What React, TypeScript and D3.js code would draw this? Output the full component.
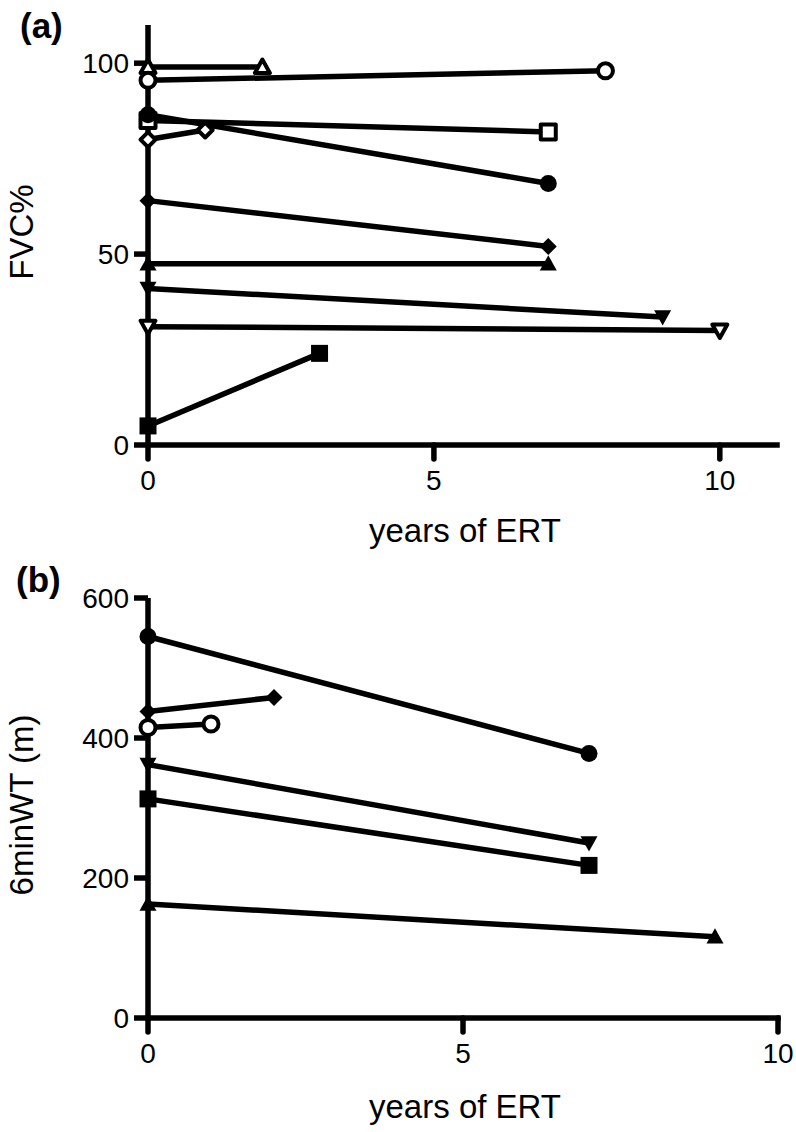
import React from "react";
import * as d3 from "d3";

type Shape = "triUp" | "triDown" | "circle" | "square" | "diamond";
interface Series { shape: Shape; open: boolean; years: number[]; values: number[]; }

// Panel (a): FVC%
const fvcShapes: Shape[] = ["triUp", "circle", "square", "circle", "diamond", "diamond", "triUp", "triDown", "triDown", "square"];
const fvcOpen: boolean[] = [true, true, true, false, true, false, false, false, true, false];
const fvcYears: number[][] = [[0, 2], [0, 8], [0, 7], [0, 7], [0, 1], [0, 7], [0, 7], [0, 9], [0, 10], [0, 3]];
const fvcValues: number[][] = [[99, 99], [95.5, 98], [85, 82], [86.5, 68.5], [80, 82.5], [64, 52], [47.5, 47.5], [41, 33.5], [31, 30], [5, 24]];

// Panel (b): 6minWT (m)
const wtShapes: Shape[] = ["circle", "diamond", "circle", "triDown", "square", "triUp"];
const wtOpen: boolean[] = [false, false, true, false, false, false];
const wtYears: number[][] = [[0, 7], [0, 2], [0, 1], [0, 7], [0, 7], [0, 9]];
const wtValues: number[][] = [[545, 378], [438, 458], [415, 420], [362, 250], [313, 218], [163, 116]];

const xTicksA = [0, 5, 10];
const yTicksA = [0, 50, 100];
const xTicksB = [0, 5, 10];
const yTicksB = [0, 200, 400, 600];

const mk = (shapes: Shape[], open: boolean[], years: number[][], values: number[][]): Series[] =>
  shapes.map((s, i) => ({ shape: s, open: open[i], years: years[i], values: values[i] }));

const FONT = "Liberation Sans, Arial, sans-serif";

function markerPath(shape: Shape, size: number): string {
  const h = size / 2;
  switch (shape) {
    case "square":
      return `M${-h},${-h}H${h}V${h}H${-h}Z`;
    case "diamond":
      return `M0,${-h}L${h},0L0,${h}L${-h},0Z`;
    case "triUp":
      return `M0,${-h}L${h},${h * 0.8}L${-h},${h * 0.8}Z`;
    case "triDown":
      return `M0,${h}L${h},${-h * 0.8}L${-h},${-h * 0.8}Z`;
    default:
      return d3.symbol(d3.symbolCircle, Math.PI * h * h)() || "";
  }
}

interface PanelProps {
  series: Series[];
  x: d3.ScaleLinear<number, number>;
  y: d3.ScaleLinear<number, number>;
  xTicks: number[];
  yTicks: number[];
  yLabel: string;
  yLabelCenter: number;
  xLabelY: number;
  tag: string;
  tagY: number;
  tagX: number;
}

function Panel({ series, x, y, xTicks, yTicks, yLabel, yLabelCenter, xLabelY, tag, tagY, tagX }: PanelProps) {
  const [x0, x1] = x.range();
  const [y0, y1] = y.range();
  const line = d3.line<[number, number]>().x((d) => x(d[0])).y((d) => y(d[1]));
  const sw = 5.5;
  return (
    <g>
      <text x={tagX} y={tagY} fontFamily={FONT} fontWeight="bold" fontSize={35}>{tag}</text>
      {/* axes */}
      <line x1={x0} x2={x0} y1={y1} y2={y0} stroke="#000" strokeWidth={sw} />
      <line x1={x0} x2={x1} y1={y0} y2={y0} stroke="#000" strokeWidth={sw} strokeLinecap="square" />
      {yTicks.map((t) => (
        <g key={"y" + t}>
          <line x1={x0 - 14} x2={x0} y1={y(t)} y2={y(t)} stroke="#000" strokeWidth={sw} />
          <text x={x0 - 19} y={y(t)} dy="0.36em" textAnchor="end" fontFamily={FONT} fontSize={28}>{t}</text>
        </g>
      ))}
      {xTicks.map((t) => (
        <g key={"x" + t}>
          <line x1={x(t)} x2={x(t)} y1={y0} y2={y0 + 14} stroke="#000" strokeWidth={sw} strokeLinecap="round" />
          <text x={x(t)} y={y0 + 45} textAnchor="middle" fontFamily={FONT} fontSize={28}>{t}</text>
        </g>
      ))}
      <text x={465} y={xLabelY} textAnchor="middle" fontFamily={FONT} fontSize={33}>years of ERT</text>
      <text transform={`translate(33,${yLabelCenter}) rotate(-90)`} textAnchor="middle" fontFamily={FONT} fontSize={33}>{yLabel}</text>
      {/* data lines */}
      {series.map((s, i) => (
        <path key={"l" + i} d={line(s.years.map((yr, j) => [yr, s.values[j]] as [number, number])) || ""}
          fill="none" stroke="#000" strokeWidth={sw} />
      ))}
      {/* markers */}
      {series.map((s, i) =>
        s.years.map((yr, j) => (
          <path key={"m" + i + "_" + j}
            transform={`translate(${x(yr)},${y(s.values[j])})`}
            d={markerPath(s.shape, s.open ? 15 : 17)}
            fill={s.open ? "#fff" : "#000"}
            stroke="#000" strokeWidth={s.open ? 4 : 0} strokeLinejoin="round" />
        ))
      )}
    </g>
  );
}

export default function App() {
  const xA = d3.scaleLinear().domain([0, 11]).range([148, 777]);
  const yA = d3.scaleLinear().domain([0, 110]).range([445, 25]);
  const xB = d3.scaleLinear().domain([0, 10]).range([148, 778]);
  const yB = d3.scaleLinear().domain([0, 600]).range([1018, 598]);
  const fvc = mk(fvcShapes, fvcOpen, fvcYears, fvcValues);
  const wt = mk(wtShapes, wtOpen, wtYears, wtValues);
  return (
    <svg width={796} height={1132} style={{ position: "absolute", left: 0, top: 0, background: "#fff" }}>
      <rect width={796} height={1132} fill="#fff" />
      <Panel series={fvc} x={xA} y={yA} xTicks={xTicksA} yTicks={yTicksA} yLabel="FVC%" yLabelCenter={232}
        xLabelY={542} tag="(a)" tagX={20} tagY={38} />
      <Panel series={wt} x={xB} y={yB} xTicks={xTicksB} yTicks={yTicksB} yLabel="6minWT (m)" yLabelCenter={805}
        xLabelY={1118} tag="(b)" tagX={16} tagY={592} />
    </svg>
  );
}
